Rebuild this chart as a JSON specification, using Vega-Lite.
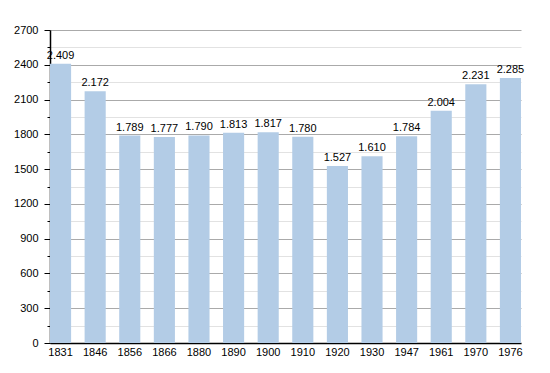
{
  "$schema": "https://vega.github.io/schema/vega-lite/v6.json",
  "width": 471,
  "height": 313,
  "autosize": {"type": "none"},
  "padding": {"left": 50, "top": 30, "right": 29, "bottom": 30},
  "background": "white",
  "config": {
    "view": {"stroke": null},
    "font": "Liberation Sans",
    "locale": {"number": {"decimal": ",", "thousands": ".", "grouping": [3], "currency": ["", "€"]}}
  },
  "data": {
    "values": [
      {"year": "1831", "pop": 2409},
      {"year": "1846", "pop": 2172},
      {"year": "1856", "pop": 1789},
      {"year": "1866", "pop": 1777},
      {"year": "1880", "pop": 1790},
      {"year": "1890", "pop": 1813},
      {"year": "1900", "pop": 1817},
      {"year": "1910", "pop": 1780},
      {"year": "1920", "pop": 1527},
      {"year": "1930", "pop": 1610},
      {"year": "1947", "pop": 1784},
      {"year": "1961", "pop": 2004},
      {"year": "1970", "pop": 2231},
      {"year": "1976", "pop": 2285}
    ]
  },
  "encoding": {
    "x": {
      "field": "year",
      "type": "nominal",
      "sort": null,
      "scale": {"paddingInner": 0.39, "paddingOuter": 0},
      "axis": {
        "title": null,
        "labelAngle": 0,
        "ticks": false,
        "domainColor": "black",
        "domainWidth": 1.5,
        "labelFontSize": 11,
        "labelColor": "black",
        "labelPadding": 3
      }
    },
    "y": {
      "field": "pop",
      "type": "quantitative",
      "scale": {"domain": [0, 2700], "nice": false},
      "axis": {
        "title": null,
        "values": [0, 150, 300, 450, 600, 750, 900, 1050, 1200, 1350, 1500, 1650, 1800, 1950, 2100, 2250, 2400, 2550, 2700],
        "format": "d",
        "labelExpr": "datum.value % 300 === 0 ? datum.label : ''",
        "grid": true,
        "gridColor": {"condition": {"test": "datum.value % 300 === 0", "value": "#aaaaaa"}, "value": "#e2e2e2"},
        "tickSize": {"condition": {"test": "datum.value % 300 === 0", "value": 6}, "value": 3},
        "tickColor": "black",
        "domainColor": "black",
        "domainWidth": 1.5,
        "labelFontSize": 11,
        "labelColor": "black",
        "labelPadding": 6
      }
    }
  },
  "layer": [
    {"mark": {"type": "bar", "color": "#b3cce6"}},
    {
      "mark": {"type": "text", "dy": -8, "fontSize": 11, "color": "black"},
      "encoding": {"text": {"field": "pop", "type": "quantitative", "format": ",d"}}
    }
  ]
}
